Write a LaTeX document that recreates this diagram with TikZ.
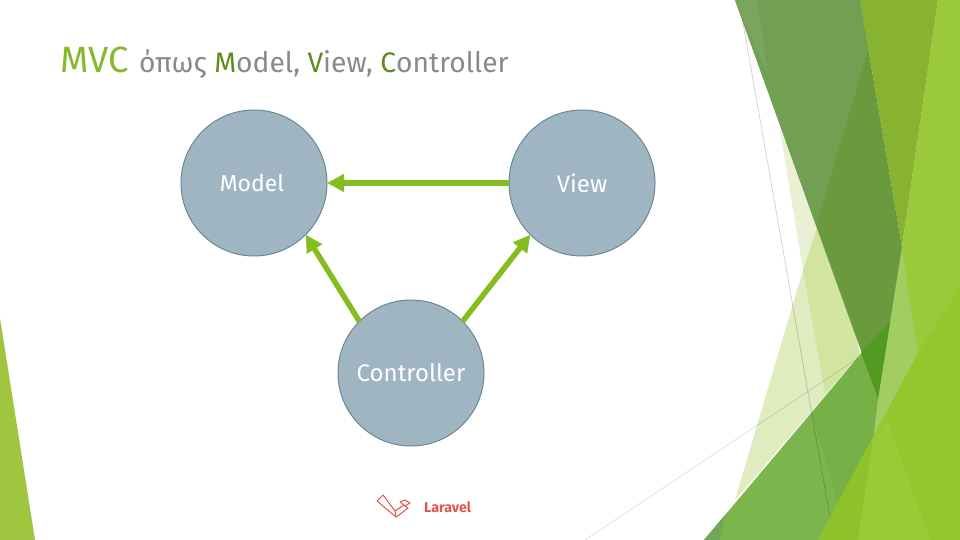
\documentclass[tikz,border=0pt]{standalone}
\usepackage{fontspec}
\setmainfont{Fira Sans}
\usetikzlibrary{arrows.meta}
\definecolor{dkA}{HTML}{6A993E}
\definecolor{dkB}{HTML}{72A053}
\definecolor{dkC}{HTML}{79A55F}
\definecolor{olive}{HTML}{87B331}
\definecolor{bright}{HTML}{9ACA3C}
\definecolor{low}{HTML}{94C62D}
\definecolor{lowL}{HTML}{9ACB36}
\definecolor{lowD}{HTML}{8FC12A}
\definecolor{mid}{HTML}{7CB54C}
\definecolor{midD}{HTML}{75B147}
\definecolor{midE}{HTML}{6FA85A}
\definecolor{deep}{HTML}{529A22}
\definecolor{haze}{HTML}{A3CD62}
\definecolor{paleA}{HTML}{E9F0D4}
\definecolor{paleB}{HTML}{E0EBC0}
\definecolor{paleC}{HTML}{D2E4A0}
\definecolor{corner}{HTML}{A0C53F}
\definecolor{circ}{HTML}{9FB5C2}
\definecolor{circline}{HTML}{6B8796}
\definecolor{arrowgreen}{HTML}{85BC20}
\definecolor{titlegreen}{HTML}{85B82A}
\definecolor{keygreen}{HTML}{5F8A1C}
\definecolor{titlegray}{HTML}{8A8A8A}
\definecolor{lara}{HTML}{E2574C}
\tikzset{
  mvc/.style={circle,draw=circline,line width=1pt,fill=circ,minimum size=146pt,inner sep=0pt,outer sep=0pt,text=white,font=\fontsize{24}{28}\selectfont},
  link/.style={draw=arrowgreen,line width=5.5pt,-{Triangle[length=17pt,width=17pt,fill=arrowgreen]}},
  hair/.style={draw=black,opacity=#1,line width=0.8pt},
  logo/.style={draw=lara,line width=1pt,line join=round}
}
\begin{document}
\begin{tikzpicture}[x=1pt,y=-1pt]
\useasboundingbox (0,0) rectangle (960,540);
\fill[white] (0,0) rectangle (960,540);
% left corner
\fill[corner] (0,318) -- (35,540) -- (0,540) -- cycle;
% pale facets
\fill[paleA] (780,130) -- (803,270) -- (825,393) -- (860,355) -- (840,260) -- cycle;
\fill[paleB] (817,228) -- (803,270) -- (735,500) -- (860,355) -- cycle;
\fill[paleC] (817,228) -- (803,270) -- (825,393) -- (860,355) -- (840,260) -- cycle;
% upper right facets
\fill[bright] (938,0) -- (960,0) -- (960,290) -- (873,440) -- (878,398) -- (902,247) -- cycle;
\fill[olive] (860,0) -- (938,0) -- (902,247) -- cycle;
\fill[haze] (902,247) -- (905,270) -- (918,353) -- (873,440) -- (878,398) -- cycle;
% lower middle facets
\fill[mid] (704,540) -- (860,355) -- (890,322) -- (878,398) -- (873,440) -- (818,540) -- cycle;
\fill[midE] (704,540) -- (725,515) -- (720,540) -- cycle;
\fill[midD] (812,413) -- (860,355) -- (878,398) -- (873,440) -- (838,503) -- cycle;
% thin lines
\coordinate (ha) at (739,0); \coordinate (hb) at (834,540);
\coordinate (hc) at (585,540); \coordinate (hd) at (858,358);
\draw[hair=0.17] (ha) -- (hb);
\draw[hair=0.12] (hc) -- (hd);
% dark facets
\fill[dkA] (735,0) -- (860,0) -- (902,247) -- (878,398) -- cycle;
\fill[dkB] (735,0) -- (860,0) -- (868,50) -- (816,225) -- cycle;
\fill[dkC] (735,0) -- (757,0) -- (768,75) -- cycle;
\fill[deep] (861,353) -- (890,322) -- (878,398) -- cycle;
% bottom facets
\fill[low] (818,540) -- (918,353) -- (960,287) -- (960,540) -- cycle;
\fill[lowD] (818,540) -- (873,440) -- (858,540) -- cycle;
\fill[lowL] (873,440) -- (887,420) -- (930,540) -- (858,540) -- cycle;
% title
\node[anchor=base west,inner sep=0pt,text=titlegreen,font=\fontsize{36.5}{40}\selectfont] (ttl) at (60,73) {MVC};
\node[anchor=base west,inner sep=0pt,text=titlegray,font=\fontsize{28.2}{32}\selectfont] (ttr) at (139,73)
  {όπως \textcolor{keygreen}{M}odel, \textcolor{keygreen}{V}iew, \textcolor{keygreen}{C}ontroller};
% diagram
\node[mvc] (m) at (254,183) {\fontsize{23}{28}\selectfont\raisebox{-2pt}{\hspace{-4pt}Model}};
\node[mvc] (v) at (582,183) {View};
\node[mvc] (c) at (411,373) {Controller};
\draw[link] (v.180) -- (m.0);
\draw[link] (c.135) -- (m.-45);
\draw[link] (c.45) -- (v.225);
% laravel
\draw[logo] (377,501) -- (383,495) -- (395,511) -- (396,517) -- cycle;
\draw[logo] (395,511) -- (404,505) -- (408,508) -- (399,515) -- (396,517);
\draw[logo] (400,502) -- (405,500) -- (410,503) -- (405,506) -- cycle;
\node[anchor=base west,inner sep=0pt,text=lara,font=\fontsize{14.2}{18}\selectfont\bfseries] (lv) at (424,512) {Laravel};
\end{tikzpicture}
\end{document}
